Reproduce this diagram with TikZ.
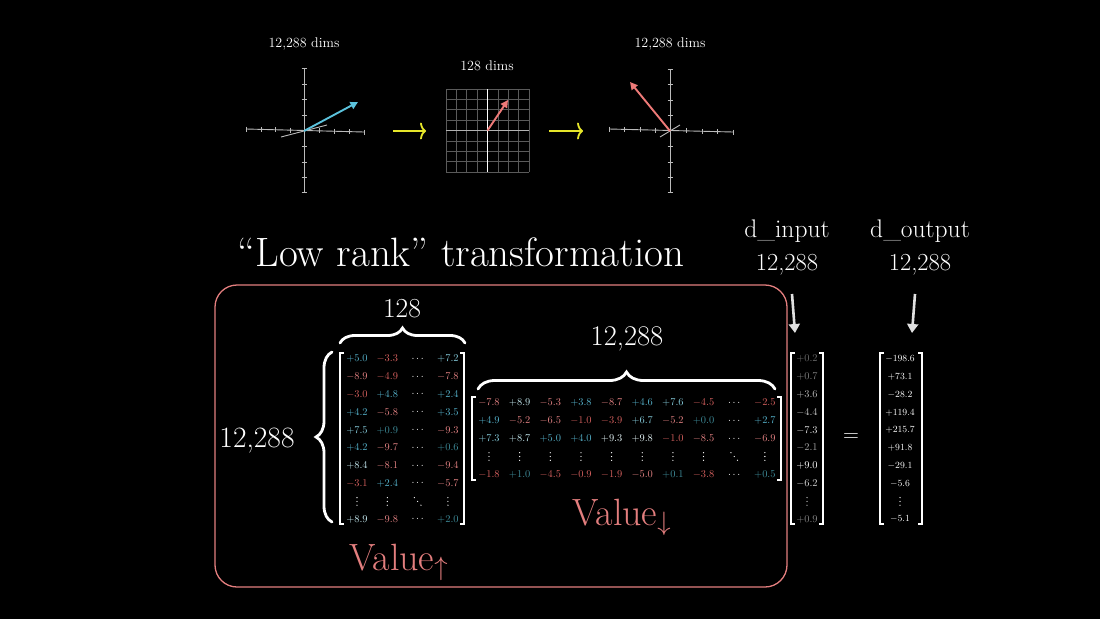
\documentclass[tikz,border=0pt]{standalone}
\usepackage{fix-cm}
\usetikzlibrary{arrows.meta,decorations.pathreplacing}
\definecolor{salmon}{HTML}{E37E7E}
\definecolor{ylw}{HTML}{E6E62A}
\definecolor{vblue}{HTML}{5BC2DC}
\definecolor{vred}{HTML}{EE7A78}
\definecolor{pA}{HTML}{3F8E9C}
\definecolor{pB}{HTML}{55B2CB}
\definecolor{pC}{HTML}{86CCDC}
\definecolor{pD}{HTML}{C4E8EF}
\definecolor{pE}{HTML}{E6F6F8}
\definecolor{nA}{HTML}{D8615F}
\definecolor{nB}{HTML}{E48283}
\definecolor{axg}{HTML}{BBBBBB}
\definecolor{gridg}{HTML}{5A5A5A}
\tikzset{
  num/.style={font=\fontsize{10.4}{12}\selectfont, inner sep=0pt, anchor=center},
  outnum/.style={font=\fontsize{9.4}{11}\selectfont, inner sep=0pt, anchor=center, text=white},
  lbl/.style={font=\fontsize{14}{16}\selectfont, text=white, inner sep=0pt, anchor=base},
  big/.style={font=\fontsize{28.5}{31}\selectfont, text=white, inner sep=0pt, anchor=base},
  mid/.style={font=\fontsize{25.5}{28}\selectfont, text=white, inner sep=0pt, anchor=base},
  vlbl/.style={font=\fontsize{38}{42}\selectfont, text=salmon, inner sep=0pt, anchor=base west},
  brk/.style={draw=white, line width=1.1pt},
  brc/.style={draw=white, line width=2.8pt, line cap=round, decorate},
  axis/.style={draw=axg, line width=0.9pt},
  yarr/.style={draw=ylw, line width=1.8pt, -{To[length=6pt,width=17pt]}},
  varr/.style={line width=1.9pt, -{Triangle[length=7.5pt,width=7.5pt]}},
  warr/.style={draw=white!88!black, line width=2.6pt, -{Triangle[length=9pt,width=11pt]}},
  vd/.pic={\fill (0,-3.8) circle (0.65) (0,0) circle (0.65) (0,3.8) circle (0.65);},
  dd/.pic={\fill (-3.3,-3.8) circle (0.65) (0,0) circle (0.65) (3.3,3.8) circle (0.65);},
}
\begin{document}
\begin{tikzpicture}[x=1pt,y=-1pt]
\fill[black] (0,0) rectangle (1100,619);
\useasboundingbox (0,0) rectangle (1100,619);

% ---------- top: three spaces ----------
\node[lbl] (t1) at (304,47) {12,288 dims};
\node[lbl] (t2) at (487,70) {128 dims};
\node[lbl] (t3) at (670,47) {12,288 dims};

% left axes
\coordinate (O1) at (304,131);
\draw[axis] (246,129) -- (364,132);
\draw[axis] (304,68) -- (304,192);
\draw[axis] (281,137) -- (327,125);
\foreach \x in {246,261,275,290,319,334,349,364}
  \draw[axis] (\x,{129+(\x-246)*3/118-2.5}) -- ++(0,5);
\foreach \y in {68,84,99,115,146,162,177,192}
  \draw[axis] (301.5,\y) -- (306.5,\y);
\coordinate (A1) at (358,102);
\draw[varr, draw=vblue, fill=vblue] (O1) -- (A1);

% middle grid
\foreach \i in {0,...,8} {
  \draw[gridg, line width=0.6pt] ({446+\i*10.375},89) -- ({446+\i*10.375},172);
  \draw[gridg, line width=0.6pt] (446,{89+\i*10.375}) -- (529,{89+\i*10.375});
}
\draw[white!70!black, line width=1.6pt] (446,130.5) -- (529,130.5);
\draw[white, line width=1pt] (487.5,89) -- (487.5,172);
\coordinate (O2) at (487.5,130.5);
\coordinate (A2) at (508,100);
\draw[varr, draw=vred, fill=vred] (O2) -- (A2);

% right axes
\coordinate (O3) at (670,131);
\draw[axis] (609,129) -- (733,132);
\draw[axis] (670,69) -- (670,192);
\draw[axis] (660,137) -- (680,125);
\foreach \x in {609,624,640,655,686,702,717,733}
  \draw[axis] (\x,{129+(\x-609)*3/124-2.5}) -- ++(0,5);
\foreach \y in {69,84,100,115,146,162,177,192}
  \draw[axis] (667.5,\y) -- (672.5,\y);
\coordinate (A3) at (630,82);
\draw[varr, draw=vred, fill=vred] (O3) -- (A3);

% yellow arrows
\coordinate (y1a) at (393,131); \coordinate (y1b) at (426,131);
\coordinate (y2a) at (549,131); \coordinate (y2b) at (583,131);
\draw[yarr] (y1a) -- (y1b);
\draw[yarr] (y2a) -- (y2b);

% ---------- title ----------
\node[font=\fontsize{41}{45}\selectfont, text=white, inner sep=0pt, anchor=base] (title) at (461,266) {“Low rank” transformation};

% d_input / d_output
\node[mid] (din) at (787,237) {d\_input};
\node[mid, font=\fontsize{24.5}{27}\selectfont] (dinn) at (787,270) {12,288};
\node[mid] (dout) at (920,237) {d\_output};
\node[mid, font=\fontsize{24.5}{27}\selectfont] (doutn) at (920,270) {12,288};
\coordinate (ia) at (792,294); \coordinate (ib) at (795,333);
\coordinate (oa) at (915,294); \coordinate (ob) at (912,333);
\draw[warr] (ia) -- (ib);
\draw[warr] (oa) -- (ob);

% pink box
\draw[salmon, line width=1.3pt, rounded corners=22pt] (215,285) rectangle (787,587);

% ---------- left matrix (Value up) ----------
\foreach \row [count=\r] in {
 {pB/+5.0, nA/-3.3, white/\cdots, pC/+7.2},
 {nB/-8.9, nA/-4.9, white/\cdots, nB/-7.8},
 {nA/-3.0, pB/+4.8, white/\cdots, pB/+2.4},
 {pB/+4.2, nB/-5.8, white/\cdots, pB/+3.5},
 {pC/+7.5, pA/+0.9, white/\cdots, nB/-9.3},
 {pB/+4.2, nB/-9.7, white/\cdots, pA/+0.6},
 {pD/+8.4, nB/-8.1, white/\cdots, nB/-9.4},
 {nA/-3.1, pB/+2.4, white/\cdots, nB/-5.7}} {
  \foreach \s/\v [count=\c] in \row {
    \node[num, text=\s] (L-\r-\c) at ({357+30.3*(\c-1)},{359+17.8*(\r-1)}) {$\v$};
  }
}
\foreach \s/\v [count=\c] in {pD/+8.9, nB/-9.8, white/\cdots, pA/+2.0}
  \node[num, text=\s] (L-10-\c) at ({357+30.3*(\c-1)},519.2) {$\v$};
\foreach \c in {1,2,4}
  \pic[white] (L-9-\c) at ({357+30.3*(\c-1)},501.4) {vd};
\pic[white] (L-9-3) at (417.6,501.4) {dd};
\draw[brk] (344,353) -- (340,353) -- (340,524) -- (344,524);
\draw[brk] (460,353) -- (464,353) -- (464,524) -- (460,524);
\draw[brc, decoration={brace, amplitude=16pt}] (332,522) -- (332,352);
\draw[brc, decoration={brace, amplitude=15pt}] (340,343) -- (465,343);
\node[big, font=\fontsize{27.5}{30}\selectfont] (n128) at (402,317) {128};
\node[big, font=\fontsize{29.5}{32}\selectfont] (nrows) at (257,447) {12,288};
\node[vlbl] (vup) at (349,570) {Value$_{\uparrow}$};

% ---------- middle matrix (Value down) ----------
\foreach \row [count=\r] in {
 {nB/-7.8, pD/+8.9, nB/-5.3, pB/+3.8, nB/-8.7, pB/+4.6, pC/+7.6, nA/-4.5, white/\cdots, nA/-2.5},
 {pB/+4.9, nB/-5.2, nB/-6.5, nA/-1.0, nA/-3.9, pC/+6.7, nB/-5.2, pA/+0.0, white/\cdots, pB/+2.7},
 {pC/+7.3, pD/+8.7, pB/+5.0, pB/+4.0, pE/+9.3, pE/+9.8, nA/-1.0, nB/-8.5, white/\cdots, nB/-6.9}} {
  \foreach \s/\v [count=\c] in \row {
    \node[num, text=\s] (M-\r-\c) at ({489+30.65*(\c-1)},{403+18*(\r-1)}) {$\v$};
  }
}
\foreach \s/\v [count=\c] in {nA/-1.8, pA/+1.0, nA/-4.5, nA/-0.9, nA/-1.9, nB/-5.0, pA/+0.1, nA/-3.8, white/\cdots, pA/+0.5}
  \node[num, text=\s] (M-5-\c) at ({489+30.65*(\c-1)},475) {$\v$};
\foreach \c in {1,...,8,10}
  \pic[white] (M-4-\c) at ({489+30.65*(\c-1)},456.5) {vd};
\pic[white] (M-4-9) at ({489+30.65*8},456.5) {dd};
\draw[brk] (476,397) -- (472,397) -- (472,480) -- (476,480);
\draw[brk] (777,397) -- (781,397) -- (781,480) -- (777,480);
\draw[brc, decoration={brace, amplitude=17pt}] (478,389) -- (775,389);
\node[big] (ncols) at (627,345) {12,288};
\node[vlbl] (vdown) at (572,525) {Value$_{\downarrow}$};

% ---------- input vector ----------
\foreach \s/\v [count=\r] in {
 white!42!black/+0.2, white!50!black/+0.7, white!72!black/+3.6, white!78!black/-4.4,
 white!90!black/-7.3, white!65!black/-2.1, white/+9.0, white!85!black/-6.2} {
  \node[num, text=\s] (I-\r) at (807,{359+17.8*(\r-1)}) {$\v$};
}
\pic[white!80!black] (I-9) at (807,501.4) {vd};
\node[num, text=white!52!black] (I-10) at (807,519.2) {$+0.9$};
\draw[brk] (795,353) -- (791,353) -- (791,524) -- (795,524);
\draw[brk] (819,353) -- (823,353) -- (823,524) -- (819,524);

\node[font=\fontsize{22}{24}\selectfont, text=white, inner sep=0pt] (eq) at (851,438) {$=$};

% ---------- output vector ----------
\foreach \v [count=\r] in {-198.6, +73.1, -28.2, +119.4, +215.7, +91.8, -29.1, -5.6} {
  \node[outnum] (O-\r) at (900,{359+17.8*(\r-1)}) {$\v$};
}
\pic[white] (O-9) at (900,501.4) {vd};
\node[outnum] (O-10) at (900,519.2) {$-5.1$};
\draw[brk] (884,353) -- (880,353) -- (880,524) -- (884,524);
\draw[brk] (918,353) -- (922,353) -- (922,524) -- (918,524);
\end{tikzpicture}
\end{document}
